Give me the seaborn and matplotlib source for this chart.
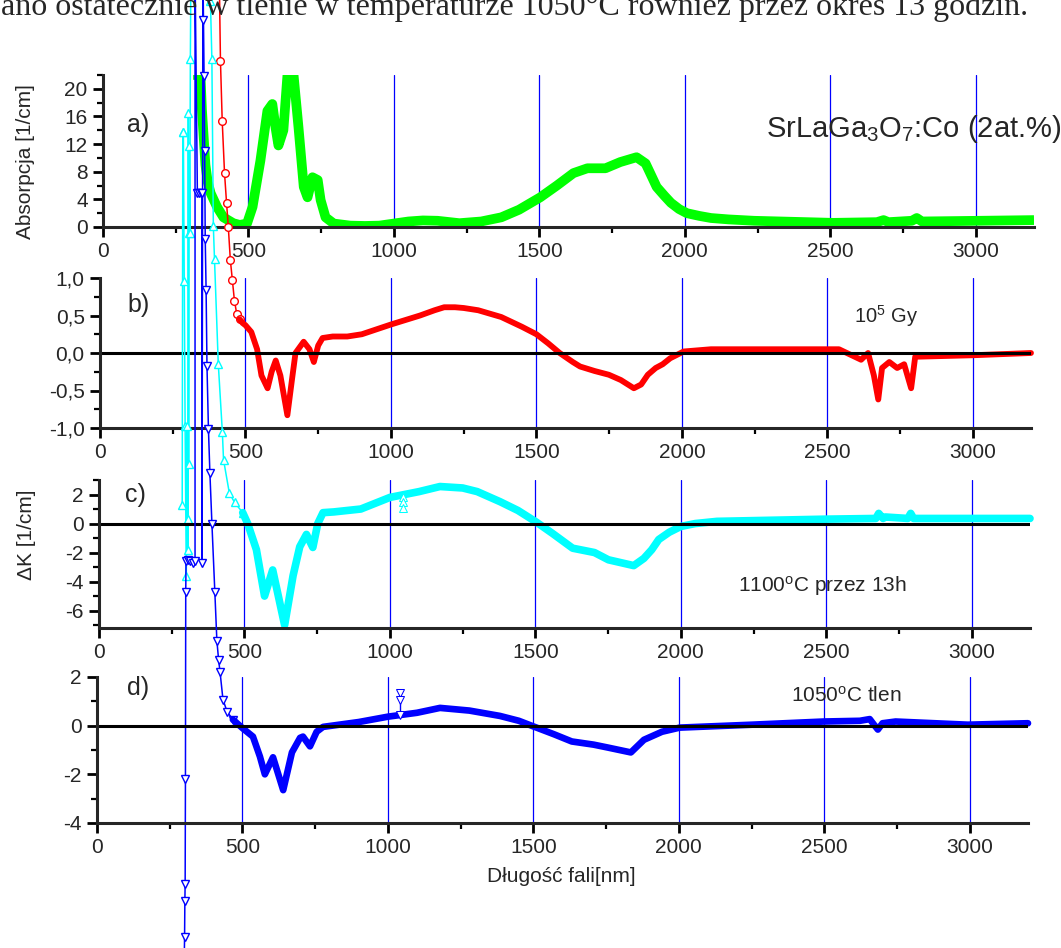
import numpy as np
import pandas as pd
import matplotlib
matplotlib.use("Agg")
import matplotlib.pyplot as plt
from matplotlib.ticker import MultipleLocator, FuncFormatter
import seaborn as sns

# ---------------- data ----------------
# a) absorption of SrLaGa3O7:Co (2at.%)
abs_nm = [310, 325, 335, 340, 345, 352, 360, 370, 392, 414, 448, 470, 495, 514, 541, 565,
          582, 593, 603, 620, 634, 655, 672, 690, 703, 720, 738, 748, 765, 793, 850, 900, 950,
          1000, 1050, 1100, 1150, 1225, 1300, 1369, 1430, 1503, 1560, 1617, 1665, 1727, 1778,
          1834, 1865, 1903, 1930, 1952, 1980, 2007, 2050, 2090, 2150, 2238, 2510, 2660, 2683,
          2700, 2780, 2797, 2815, 3013, 3200]
abs_val = [22, 22, 22, 17, 13.7, 9.0, 6.5, 4.9, 2.9, 1.4, 0.55, 0.3, 0.5, 2.9, 9.6, 16.8,
           17.8, 14.4, 11.8, 14.0, 22, 22, 14.4, 5.8, 4.3, 7.2, 6.8, 3.9, 1.4, 0.5, 0.2, 0.15, 0.2,
           0.5, 0.8, 0.95, 0.9, 0.55, 0.8, 1.4, 2.5, 4.3, 6.0, 7.8, 8.5, 8.5, 9.4,
           10.1, 9.2, 5.8, 4.5, 3.5, 2.6, 2.0, 1.6, 1.3, 1.1, 0.9, 0.6, 0.7, 1.0,
           0.7, 0.9, 1.3, 0.8, 0.9, 1.0]

# b) difference after 10^5 Gy
irr_nm = [410, 414, 420, 428, 435, 441, 448, 455, 462, 470, 480, 490, 500, 520, 540, 555,
          576, 590, 604, 620, 644, 660, 672, 700, 720, 735, 750, 765, 800, 850, 900, 1000,
          1050, 1100, 1150, 1183, 1220, 1250, 1300, 1379, 1450, 1500, 1540, 1580, 1625, 1650,
          1700, 1749, 1790, 1835, 1860, 1883, 1910, 1934, 1960, 2006, 2100, 2540, 2616, 2640,
          2660, 2675, 2688, 2713, 2740, 2764, 2788, 2802, 3000, 3200]
irr_val = [5.0, 3.9, 3.1, 2.4, 2.0, 1.68, 1.24, 0.97, 0.7, 0.52, 0.45, 0.4, 0.37, 0.28, 0.05, -0.3,
           -0.47, -0.25, -0.1, -0.3, -0.83, -0.35, 0.0, 0.15, 0.05, -0.12, 0.1, 0.2, 0.22, 0.22, 0.25, 0.38,
           0.44, 0.5, 0.57, 0.61, 0.61, 0.6, 0.57, 0.48, 0.35, 0.25, 0.13, 0.0, -0.12, -0.18,
           -0.24, -0.29, -0.36, -0.47, -0.42, -0.29, -0.2, -0.15, -0.07, 0.02, 0.05, 0.05, -0.09, 0.0,
           -0.3, -0.62, -0.2, -0.12, -0.2, -0.15, -0.47, -0.05, -0.03, 0.0]

# c) difference after 1100 C, 13 h
ann_nm = [286, 288, 290, 293, 296, 300, 303, 305, 306, 307, 308, 309, 310, 312, 314, 318,
          379, 383, 388, 393, 397, 410, 424, 428, 448, 466, 494, 511, 541, 569, 597, 638,
          667, 690, 713, 735, 752, 770, 807, 900, 1000, 1100, 1172, 1250, 1300, 1379, 1440,
          1503, 1560, 1628, 1703, 1751, 1838, 1873, 1900, 1924, 1960, 2000, 2050, 2124, 2493,
          2670, 2680, 2695, 2703, 2780, 2790, 2800, 3200]
ann_val = [1.3, 27.0, 27.0, 16.7, 6.7, -3.6, 6.7, 0.3, -1.8, 28.3, 4.1, 20.0, 26.0, 20.0, 32.0, 45.0,
           45.0, 36.0, 32.0, 20.5, 18.2, 11.0, 6.3, 4.4, 2.1, 1.45, 0.75, 0.0, -1.8, -5.0, -3.2, -7.0,
           -3.6, -1.6, -0.75, -1.65, 0.0, 0.75, 0.8, 1.0, 1.8, 2.2, 2.55, 2.45, 2.2, 1.5, 0.9,
           0.1, -0.7, -1.7, -2.0, -2.5, -2.9, -2.4, -1.8, -1.1, -0.6, -0.2, 0.0, 0.15, 0.3,
           0.35, 0.7, 0.35, 0.45, 0.35, 0.7, 0.35, 0.35]
ann_spike_nm = [1045, 1045, 1045]
ann_spike_val = [1.85, 1.45, 1.1]

# d) difference after 1050 C in oxygen
oxy_nm = [300, 301, 302, 303, 304, 305, 306, 312, 320, 330, 337, 337, 345, 352, 358, 361, 361, 364,
          366, 368, 370, 372, 375, 378, 383, 388, 395, 405, 412, 418, 423, 433, 447, 467, 500,
          536, 560, 577, 605, 640, 670, 698, 708, 732, 755, 777, 900, 1000, 1100, 1179, 1280,
          1385, 1450, 1502, 1570, 1632, 1707, 1756, 1835, 1880, 1942, 2003, 2251, 2498, 2622,
          2656, 2670, 2684, 2700, 2745, 2993, 3200]
oxy_val = [-9.5, -8.7, -7.2, -6.5, -2.2, 5.5, 6.75, 6.8, 6.75, 6.7, 6.75, 31.0, 21.9, 21.9, 21.9, 21.9, 6.7, 31.0,
           29.0, 26.7, 23.6, 20.0, 17.9, 14.8, 12.2, 10.4, 8.3, 5.5, 3.5, 2.7, 2.2, 1.07, 0.58, 0.25, -0.1,
           -0.45, -1.27, -2.0, -1.3, -2.65, -1.1, -0.5, -0.45, -0.85, -0.25, -0.05, 0.15, 0.37, 0.53, 0.73, 0.62,
           0.4, 0.2, -0.04, -0.35, -0.65, -0.78, -0.9, -1.1, -0.58, -0.25, -0.08, 0.04, 0.17, 0.2,
           0.27, 0.05, -0.16, 0.1, 0.17, 0.04, 0.1]
oxy_spike_nm = [1041, 1041, 1041]
oxy_spike_val = [0.45, 1.36, 1.07]

x_ticks = [0, 500, 1000, 1500, 2000, 2500, 3000]

# ---------------- style ----------------
sns.set_style("ticks")
plt.rcParams['font.family'] = ['Liberation Sans', 'DejaVu Sans']
plt.rcParams['mathtext.fontset'] = 'custom'
plt.rcParams['mathtext.rm'] = 'Liberation Sans'
plt.rcParams['mathtext.it'] = 'Liberation Sans:italic'
plt.rcParams['axes.unicode_minus'] = False

GREEN, RED, CYAN, BLUE = '#00FF00', '#FF0000', '#00FFFF', '#0000FF'

W, H = 1061, 948
fig = plt.figure(figsize=(W / 100, H / 100), dpi=100)


def add_ax(left, top, bottom, width=931):
    return fig.add_axes([left / W, 1 - bottom / H, width / W, (bottom - top) / H])


ax_a = add_ax(103, 75, 227)
ax_b = add_ax(100, 278, 428)
ax_c = add_ax(99, 480, 628)
ax_d = add_ax(97, 677, 823)
axes = [ax_a, ax_b, ax_c, ax_d]

for ax in axes:
    ax.set_facecolor('none')
    ax.set_xlim(0, 3200)
    for s in ('top', 'right'):
        ax.spines[s].set_visible(False)
    for s in ('left', 'bottom'):
        ax.spines[s].set_linewidth(2.2)
        ax.spines[s].set_zorder(5)
    ax.set_xticks(x_ticks)
    ax.xaxis.set_minor_locator(MultipleLocator(250))
    ax.tick_params(which='major', length=7, width=2, direction='out', labelsize=15,
                   pad=4, color='black')
    ax.tick_params(which='minor', length=4, width=1.6, direction='out', color='black')
    for v in x_ticks[1:]:
        ax.axvline(v, color=BLUE, lw=0.9, zorder=1)

ax_a.set_ylim(0, 22)
ax_a.yaxis.set_major_locator(MultipleLocator(4))
ax_a.yaxis.set_minor_locator(MultipleLocator(2))

ax_b.set_ylim(-1, 1)
ax_b.yaxis.set_major_locator(MultipleLocator(0.5))
ax_b.yaxis.set_minor_locator(MultipleLocator(0.25))
ax_b.yaxis.set_major_formatter(FuncFormatter(lambda v, p: f"{v:.1f}".replace('.', ',')))

ax_c.set_ylim(-7.2, 3.0)
ax_c.yaxis.set_major_locator(MultipleLocator(2))
ax_c.yaxis.set_minor_locator(MultipleLocator(1))

ax_d.set_ylim(-4, 2)
ax_d.yaxis.set_major_locator(MultipleLocator(2))
ax_d.yaxis.set_minor_locator(MultipleLocator(1))

for ax in (ax_b, ax_c, ax_d):
    ax.axhline(0, color='black', lw=2.2, zorder=4)


def draw(ax, nm, val, color, marker, thick, split):
    df = pd.DataFrame({'nm': nm, 'val': val})
    steep = df[df['nm'] <= split]
    main = df[df['nm'] >= split]
    if len(steep):
        sns.lineplot(data=steep, x='nm', y='val', ax=ax, color=color, lw=1.1,
                     estimator=None, sort=False, marker=marker, ms=5.5,
                     mfc='white', mec=color, mew=1.0, clip_on=False, zorder=3)
    sns.lineplot(data=main, x='nm', y='val', ax=ax, color=color, lw=thick,
                 estimator=None, sort=False, clip_on=False, zorder=3,
                 solid_joinstyle='round', solid_capstyle='round')


# green (clipped at axis top)
df_a = pd.DataFrame({'nm': abs_nm, 'val': abs_val})
sns.lineplot(data=df_a, x='nm', y='val', ax=ax_a, color=GREEN, lw=7,
             estimator=None, sort=False, zorder=3, solid_joinstyle='round',
             solid_capstyle='butt')

draw(ax_b, irr_nm, irr_val, RED, 'o', 4.2, 480)
draw(ax_c, ann_nm, ann_val, CYAN, '^', 5.5, 494)
sns.lineplot(x=ann_spike_nm, y=ann_spike_val, ax=ax_c, color=CYAN, lw=1, estimator=None,
             sort=False, marker='^', ms=6, mfc='white', mec=CYAN, zorder=3)
draw(ax_d, oxy_nm, oxy_val, BLUE, 'v', 4.8, 467)
sns.lineplot(x=oxy_spike_nm, y=oxy_spike_val, ax=ax_d, color=BLUE, lw=1, estimator=None,
             sort=False, marker='v', ms=6, mfc='white', mec=BLUE, zorder=3)

for ax in axes:
    ax.set_xlabel('')
    ax.set_ylabel('')

# ---------------- text ----------------
ax_a.text(83, 14.8, 'a)', fontsize=18, va='center', ha='left')
ax_b.text(93, 0.64, 'b)', fontsize=18, va='center', ha='left')
ax_c.text(90, 2.0, 'c)', fontsize=18, va='center', ha='left')
ax_d.text(103, 1.55, 'd)', fontsize=18, va='center', ha='left')

ax_a.text(2280, 14.2, r'SrLaGa$_\mathrm{3}$O$_\mathrm{7}$:Co (2at.%)', fontsize=21,
          va='center', ha='left')
ax_b.text(2590, 0.49, r'10$^\mathrm{5}$ Gy', fontsize=14.5, va='center', ha='left')
ax_c.text(2197, -4.3, r'1100$^\mathrm{o}$C przez 13h', fontsize=15, va='center', ha='left')
ax_d.text(2385, 1.23, r'1050$^\mathrm{o}$C tlen', fontsize=15, va='center', ha='left')

fig.text(26 / W, 1 - 162 / H, 'Absorpcja [1/cm]', rotation=90, fontsize=15,
         ha='center', va='center')
fig.text(26 / W, 1 - 535 / H, 'ΔK [1/cm]', rotation=90, fontsize=15,
         ha='center', va='center')
fig.text(561 / W, 1 - 877 / H, 'Długość fali[nm]', fontsize=15, ha='center', va='center')

fig.text(1 / W, 1 - 15 / H,
         'ano ostatecznie w tlenie w temperaturze 1050°C również przez okres 13 godzin.',
         family=['Liberation Serif', 'DejaVu Serif'], fontsize=23, ha='left', va='baseline')

fig.savefig('out.png', dpi=100)
